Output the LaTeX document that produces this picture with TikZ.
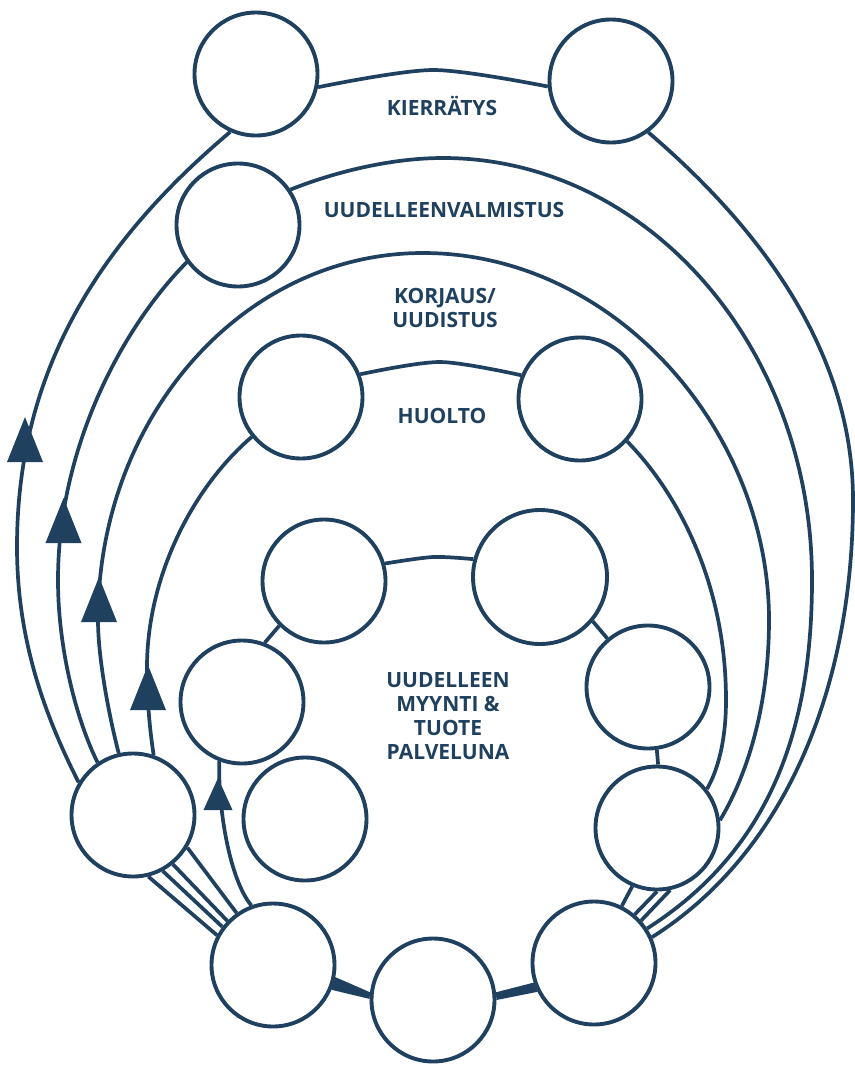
\documentclass[tikz,border=0pt]{standalone}
\usepackage{fontspec}
\setmainfont{Open Sans}
\usetikzlibrary{backgrounds}
\definecolor{navy}{RGB}{31,64,94}
\begin{document}
\begin{tikzpicture}[x=1pt,y=-1pt,
  ring/.style={circle,draw=navy,fill=white,line width=3.9pt,minimum size=123pt,inner sep=0pt},
  bigring/.style={ring,minimum size=134pt},
  link/.style={draw=navy,line width=3.7pt},
  lbl/.style={text=navy,font=\fontsize{21}{24}\selectfont\bfseries,align=center,anchor=base,inner sep=0pt},
  uptri/.pic={\fill[navy] (0,-23) -- (18,22) -- (-18,22) -- cycle;},
  smalltri/.pic={\fill[navy] (0,-16) -- (14.5,16) -- (-14.5,16) -- cycle;}]
\useasboundingbox (0,0) rectangle (854,1065);

% circles
\node[ring] (c1) at (256,74) {};
\node[ring] (c2) at (611,81) {};
\node[ring] (c3) at (238,225) {};
\node[ring] (c4) at (301,397) {};
\node[ring] (c5) at (580,399) {};
\node[ring] (c6) at (324,581) {};
\node[bigring] (c7) at (540,577) {};
\node[ring] (c8) at (648,687) {};
\node[ring] (c9) at (242,702) {};
\node[ring] (c10) at (305,819) {};
\node[ring] (c11) at (657,828) {};
\node[ring] (c12) at (133,815) {};
\node[ring] (c13) at (273,965) {};
\node[ring] (c14) at (433,1000) {};
\node[ring] (c15) at (594,963) {};

\begin{scope}[on background layer]
% bottom wedges
\fill[navy] (c13.-11) -- (c14.173) -- (c14.179) -- (c13.-23) -- cycle;
\fill[navy] (c14.7) -- (c15.198) -- (c15.207) -- (c14.0) -- cycle;

% loop A (Kierratys)
\draw[link] (c12.-76) -- (c13.152);
\draw[link] (c12.149) .. controls (45,716) and (17,640) .. (17,547)
                      .. controls (17,380) and (90,250) .. (c1.-114);
\draw[link] plot[smooth] coordinates {(c1.-12) (433,70) (c2.185)};
\draw[link] (c2.-54) .. controls (745,215) and (853,340) .. (853,500)
                     .. controls (853,680) and (790,850) .. (c15.24);

% loop B (Uudelleenvalmistus)
\draw[link] (c12.-62) -- (c13.143.5);
\draw[link] (c12.124) .. controls (77,721) and (58,650) .. (58,580)
                      .. controls (58,450) and (120,330) .. (c3.216.7);
\draw[link] (c3.34) .. controls (340,170) and (395,158) .. (443,158)
                    .. controls (647,158) and (812,347) .. (812,580)
                    .. controls (812,730) and (770,850) .. (c15.33);

% loop C (Korjaus/uudistus)
\draw[link] (c12.-51) -- (c13.136);
\draw[link] (c12.103) .. controls (110,720) and (98,660) .. (98,620)
                      .. controls (98,417) and (243,253) .. (423,253)
                      .. controls (614,253) and (769,430) .. (769,620)
                      .. controls (769,700) and (750,770) .. (c11.7);
\draw[link] (c11.-78) -- (c15.42);

% loop D (Huolto)
\draw[link] (c12.-31) -- (c13.125);
\draw[link] (c12.71) .. controls (149,725) and (147,695) .. (147,667)
                     .. controls (147,580) and (190,490) .. (c4.219);
\draw[link] plot[smooth] coordinates {(c4.21.5) (440,362) (c5.158)};
\draw[link] (c5.-42) .. controls (675,490) and (726,580) .. (726,700)
                     .. controls (726,740) and (718,770) .. (c11.38);
\draw[link] (c11.-90) -- (c15.50.6);

% loop E (inner)
\draw[link] (c13.110) .. controls (230,880) and (218,810) .. (c9.-111.5);
\draw[link] (c9.69) -- (c6.225);
\draw[link] plot[smooth] coordinates {(c6.16) (433,557) (c7.165)};
\draw[link] (c7.-40) -- (c8.130);
\draw[link] (c8.-82) -- (c11.89);
\draw[link] (c11.-113) -- (c15.64);
\end{scope}

% arrowheads
\pic (arrA) at (25,440) {uptri};
\pic (arrB) at (63.5,521) {uptri};
\pic (arrC) at (99,600) {uptri};
\pic (arrD) at (148,688) {uptri};
\pic (arrE) at (218,794) {smalltri};

% labels
\node[lbl] (tK) at (442,115) {KIERRÄTYS};
\node[lbl] (tU) at (444,217) {UUDELLEENVALMISTUS};
\node[lbl] (tKo) at (445,327) {KORJAUS/\\UUDISTUS};
\node[lbl] (tH) at (442,423) {HUOLTO};
\node[lbl] (tM) at (448,759) {UUDELLEEN\\MYYNTI \&\\TUOTE\\PALVELUNA};
\end{tikzpicture}
\end{document}
